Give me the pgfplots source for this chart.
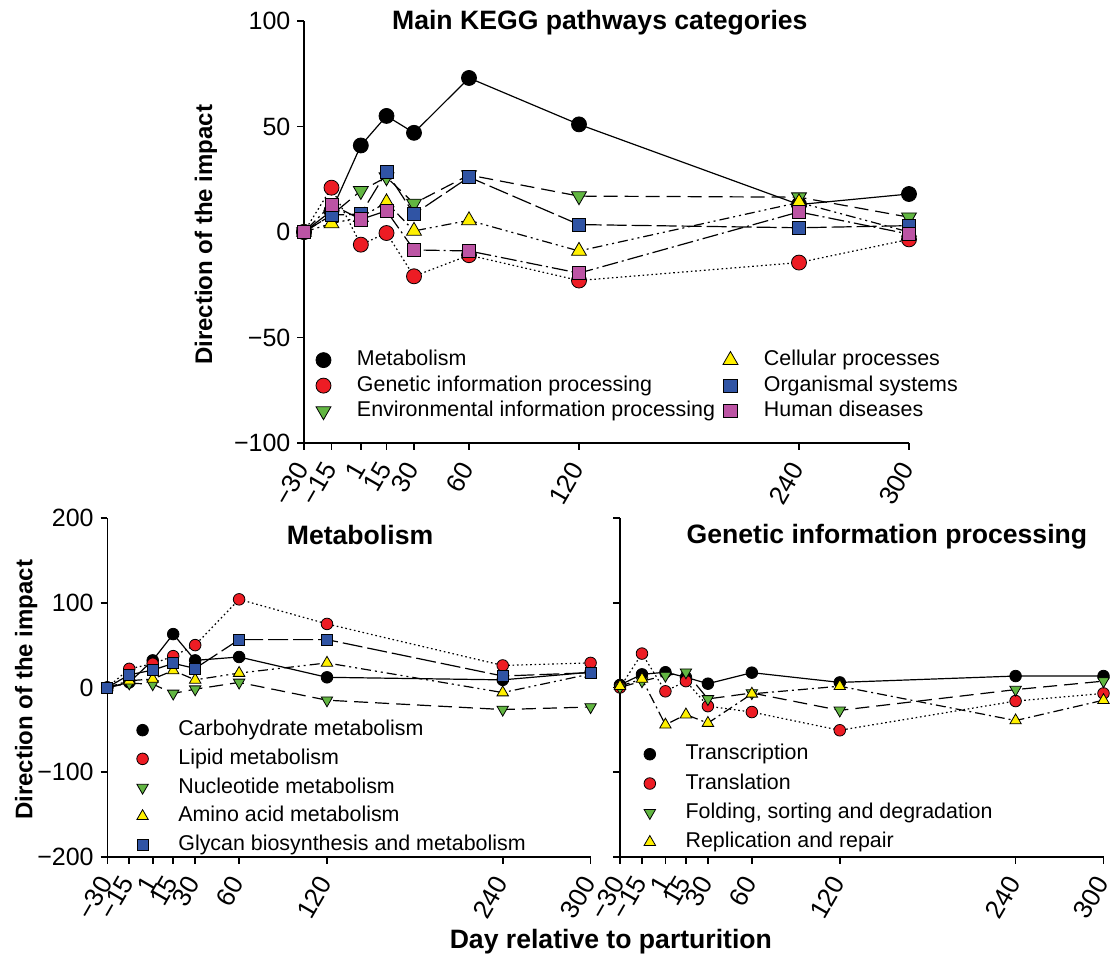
\documentclass[border=0pt]{standalone}
\usepackage{fontspec}
\setmainfont{Liberation Sans}
\usepackage{pgfplots}
\pgfplotsset{compat=1.18}

\definecolor{cRed}{RGB}{237,28,36}
\definecolor{cGreen}{RGB}{98,182,66}
\definecolor{cYellow}{RGB}{255,240,0}
\definecolor{cBlue}{RGB}{48,84,164}
\definecolor{cPink}{RGB}{188,84,164}

\pgfplotsset{
  every axis title/.style={at={(0.5,1)}, anchor=center},
  kegg/.style={
    scale only axis, clip=false, enlargelimits=false,
    xmin=-30, xmax=300,
    axis x line*=bottom, axis y line*=left,
    axis line style={-, line width=0.8pt, black},
    tick align=outside, major tick length=3.3pt,
    tick style={line width=0.8pt, black},
    xtick={-30,-15,1,15,30,60,120,240,300},
    xticklabels={−30,−15,1,15,30,60,120,240,300},
    xticklabel shift=6pt,
    xticklabel style={rotate=60, anchor=east, font=\fontsize{13}{13}\selectfont, inner sep=1.5pt},
    yticklabel style={font=\fontsize{12.5}{12.5}\selectfont},
    title style={font=\bfseries\fontsize{13.3}{14}\selectfont, anchor=center},
    ylabel style={font=\bfseries\fontsize{12}{13}\selectfont, anchor=center},
    xlabel style={font=\bfseries\fontsize{13.3}{14}\selectfont, anchor=center},
    legend cell align=left,
    legend style={draw=none, fill=none, inner sep=0pt, outer sep=0pt,
      font=\fontsize{10.7}{12}\selectfont,
      nodes={inner sep=1pt, text height=8pt, text depth=2.5pt}},
  },
  lnBlack/.style={black, line width=0.6pt, solid},
  lnRed/.style={black, line width=0.6pt, dash pattern=on 0.8pt off 1.4pt},
  lnGreen/.style={black, line width=0.6pt, dash pattern=on 7pt off 3.5pt},
  lnYellow/.style={black, line width=0.6pt, dash pattern=on 5pt off 2pt on 1pt off 2pt on 1pt off 2pt},
  lnYellowB/.style={black, line width=0.6pt, dash pattern=on 5pt off 2pt on 1pt off 2pt},
  lnBlue/.style={black, line width=0.6pt, dash pattern=on 10pt off 2.5pt},
  lnPink/.style={black, line width=0.6pt, dash pattern=on 8pt off 2pt on 1pt off 2pt},
  mkC/.style={mark=*, mark size=\mc, mark options={solid, draw=black, fill=#1, line width=0.4pt}},
  mkD/.style={mark=triangle*, mark size=\mt, mark options={solid, draw=black, fill=#1, line width=0.4pt, rotate=180}},
  mkU/.style={mark=triangle*, mark size=\mt, mark options={solid, draw=black, fill=#1, line width=0.4pt}},
  mkS/.style={mark=square*, mark size=\ms, mark options={solid, draw=black, fill=#1, line width=0.4pt}},
}

\begin{document}
\begin{tikzpicture}
\useasboundingbox (0,0) rectangle (555pt,478pt);

% ---------------- top panel ----------------
\def\mc{3.75pt}\def\mt{4.3pt}\def\ms{3.3pt}
\begin{axis}[kegg,
  at={(152pt,256.5pt)}, anchor=south west,
  width=302.5pt, height=211pt,
  ymin=-100, ymax=100,
  ytick={-100,-50,0,50,100},
  yticklabels={−100,−50,0,50,100},
  title={Main KEGG pathways categories},
  title style={at={(axis description cs:0.489,0.995)}},
  ylabel={Direction of the impact},
  ylabel style={at={(axis description cs:-0.162,0.493)}},
  legend columns=2,
  legend style={at={(axis description cs:0.0198,0.226)}, anchor=north west, row sep=0.25pt,
    /tikz/every odd column/.append style={column sep=12pt},
    /tikz/every even column/.append style={column sep=3pt}},
]
\addplot[lnBlack, mkC=black, forget plot] coordinates {(-30,0) (-15,10) (1,41) (15,55) (30,47) (60,73) (120,51) (240,13) (300,18)};
\addplot[lnRed, mkC=cRed, forget plot] coordinates {(-30,0) (-15,21) (1,-6) (15,-0.5) (30,-21) (60,-11) (120,-23) (240,-14.5) (300,-3.5)};
\addplot[lnGreen, mkD=cGreen, forget plot] coordinates {(-30,0) (-15,8) (1,19.5) (15,26) (30,13.5) (60,27) (120,17) (240,16.5) (300,7)};
\addplot[lnYellow, mkU=cYellow, forget plot] coordinates {(-30,0) (-15,4) (1,7) (15,14) (30,0.5) (60,5.5) (120,-9) (240,14) (300,0)};
\addplot[lnBlue, mkS=cBlue, forget plot] coordinates {(-30,0) (-15,8) (1,8.5) (15,28.5) (30,8.5) (60,26) (120,3.5) (240,2) (300,3)};
\addplot[lnPink, mkS=cPink, forget plot] coordinates {(-30,0) (-15,13) (1,6) (15,10) (30,-8.5) (60,-9) (120,-19.5) (240,9.5) (300,-1)};
\addlegendimage{only marks, mkC=black}\addlegendentry{Metabolism}
\addlegendimage{only marks, mkU=cYellow}\addlegendentry{Cellular processes}
\addlegendimage{only marks, mkC=cRed}\addlegendentry{Genetic information processing}
\addlegendimage{only marks, mkS=cBlue}\addlegendentry{Organismal systems}
\addlegendimage{only marks, mkD=cGreen}\addlegendentry{Environmental information processing}
\addlegendimage{only marks, mkS=cPink}\addlegendentry{Human diseases}
\end{axis}

% ---------------- bottom left ----------------
\def\mc{2.9pt}\def\mt{3.3pt}\def\ms{2.75pt}
\begin{axis}[kegg,
  at={(53.65pt,49.5pt)}, anchor=south west,
  width=241.65pt, height=169.5pt,
  ymin=-200, ymax=200,
  ytick={-200,-100,0,100,200},
  yticklabels={−200,−100,0,100,200},
  title={Metabolism},
  title style={at={(axis description cs:0.523,0.95)}},
  ylabel={Direction of the impact},
  ylabel style={at={(axis description cs:-0.168,0.493)}},
  xlabel={Day relative to parturition},
  xlabel style={at={(axis description cs:1.042,-0.251)}},
  legend style={at={(axis description cs:0.061,0.411)}, anchor=north west, row sep=1.85pt,
    /tikz/every odd column/.append style={column sep=14pt}},
]
\addplot[lnBlack, mkC=black, forget plot] coordinates {(-30,0) (-15,6) (1,32) (15,63) (30,32) (60,36) (120,12) (240,9) (300,18)};
\addplot[lnRed, mkC=cRed, forget plot] coordinates {(-30,0) (-15,22) (1,28) (15,37) (30,50) (60,104) (120,75) (240,26) (300,29)};
\addplot[lnGreen, mkD=cGreen, forget plot] coordinates {(-30,0) (-15,5) (1,4) (15,-7) (30,-2) (60,6) (120,-15) (240,-26) (300,-23)};
\addplot[lnYellow, mkU=cYellow, forget plot] coordinates {(-30,0) (-15,8) (1,10) (15,20) (30,9) (60,17) (120,29) (240,-6) (300,16)};
\addplot[lnBlue, mkS=cBlue, forget plot] coordinates {(-30,0) (-15,15) (1,20.5) (15,28.5) (30,22.5) (60,56.5) (120,56.5) (240,13.5) (300,17.5)};
\addlegendimage{only marks, mkC=black}\addlegendentry{Carbohydrate metabolism}
\addlegendimage{only marks, mkC=cRed}\addlegendentry{Lipid metabolism}
\addlegendimage{only marks, mkD=cGreen}\addlegendentry{Nucleotide metabolism}
\addlegendimage{only marks, mkU=cYellow}\addlegendentry{Amino acid metabolism}
\addlegendimage{only marks, mkS=cBlue}\addlegendentry{Glycan biosynthesis and metabolism}
\end{axis}

% ---------------- bottom right ----------------
\begin{axis}[kegg,
  at={(310pt,49.5pt)}, anchor=south west,
  width=241.75pt, height=169.5pt,
  ymin=-200, ymax=200,
  ytick={-200,-100,0,100,200},
  yticklabels={},
  title={Genetic information processing},
  title style={at={(axis description cs:0.552,0.946)}},
  legend style={at={(axis description cs:0.0497,0.340)}, anchor=north west, row sep=2.15pt,
    /tikz/every odd column/.append style={column sep=14pt}},
]
\addplot[lnBlack, mkC=black, forget plot] coordinates {(-30,3) (-15,15.5) (1,18) (15,12) (30,4.5) (60,17.5) (120,6) (240,13.5) (300,13.5)};
\addplot[lnRed, mkC=cRed, forget plot] coordinates {(-30,0) (-15,40) (1,-4.5) (15,7.5) (30,-22) (60,-29) (120,-50.5) (240,-16) (300,-7)};
\addplot[lnGreen, mkD=cGreen, forget plot] coordinates {(-30,0) (-15,7.5) (1,14) (15,18) (30,-13.5) (60,-6.5) (120,-27) (240,-2.5) (300,7.5)};
\addplot[lnYellowB, mkU=cYellow, forget plot] coordinates {(-30,1.5) (-15,10) (1,-44) (15,-32) (30,-42) (60,-7.5) (120,1.5) (240,-39) (300,-15)};
\addlegendimage{only marks, mkC=black}\addlegendentry{Transcription}
\addlegendimage{only marks, mkC=cRed}\addlegendentry{Translation}
\addlegendimage{only marks, mkD=cGreen}\addlegendentry{Folding, sorting and degradation}
\addlegendimage{only marks, mkU=cYellow}\addlegendentry{Replication and repair}
\end{axis}
\end{tikzpicture}
\end{document}
